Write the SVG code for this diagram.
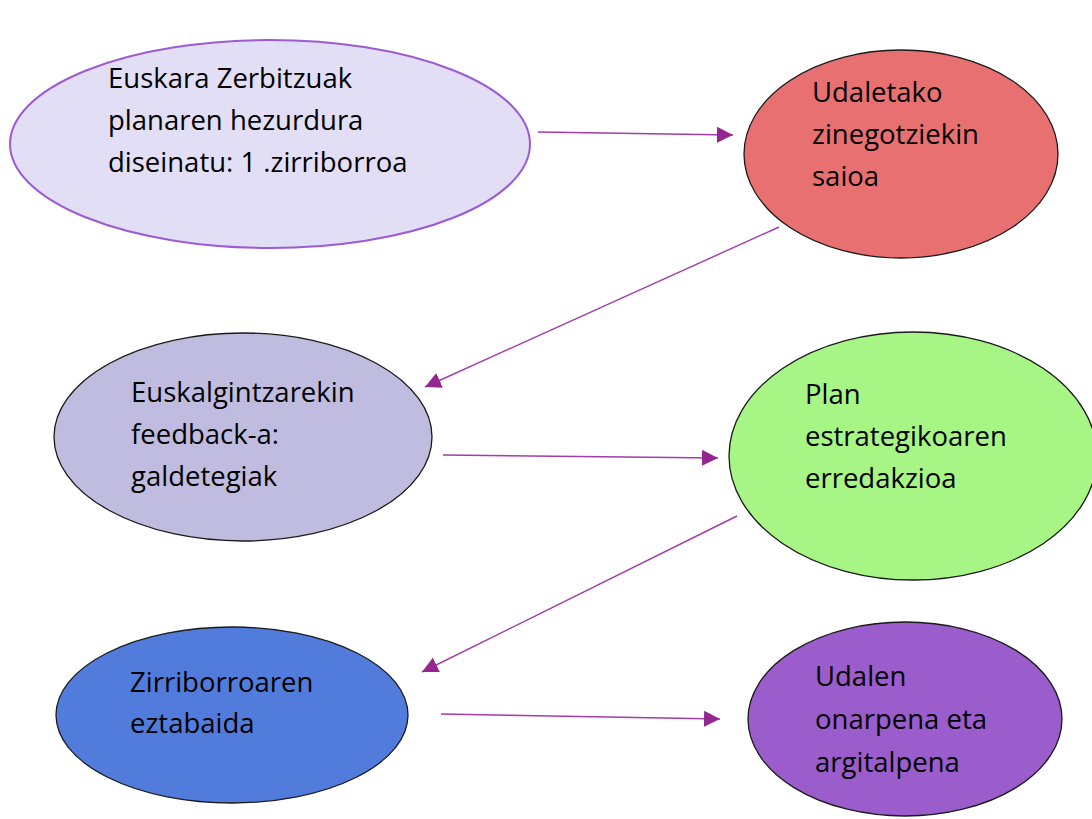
<svg xmlns="http://www.w3.org/2000/svg" width="1092" height="819" viewBox="0 0 1092 819">
<style>
  .t { font-family: "Open Sans", "Noto Sans", "DejaVu Sans", sans-serif; font-size: 27.5px; fill: #000; }
  .n { stroke: #1a1a1a; stroke-width: 1.3; }
  .c { stroke: #a53aab; stroke-width: 1.4; fill: none; marker-end: url(#ah); }
</style>
<defs>
  <marker id="ah" markerUnits="userSpaceOnUse" markerWidth="16" markerHeight="16" refX="16" refY="8" orient="auto">
    <path d="M0,0 L16,8 L0,16 z" fill="#93268f"/>
  </marker>
</defs>
<rect width="1092" height="819" fill="#fff"/>
<g id="node1">
  <ellipse cx="270" cy="144" rx="260" ry="104" fill="#e2def5" stroke="#9b5bd4" stroke-width="2"/>
  <text class="t" x="108" y="88">Euskara Zerbitzuak</text>
  <text class="t" x="108" y="130">planaren hezurdura</text>
  <text class="t" x="108" y="172">diseinatu: 1 .zirriborroa</text>
</g>
<g id="node2">
  <ellipse class="n" cx="901" cy="154" rx="157" ry="104" fill="#e97070"/>
  <text class="t" x="812" y="102">Udaletako</text>
  <text class="t" x="812" y="144">zinegotziekin</text>
  <text class="t" x="812" y="186">saioa</text>
</g>
<g id="node3">
  <ellipse class="n" cx="243" cy="437" rx="189" ry="104" fill="#c0bce0"/>
  <text class="t" x="131" y="402">Euskalgintzarekin</text>
  <text class="t" x="131" y="444">feedback-a:</text>
  <text class="t" x="131" y="486">galdetegiak</text>
</g>
<g id="node4">
  <ellipse class="n" cx="913" cy="456" rx="184" ry="124" fill="#a6f585"/>
  <text class="t" x="805" y="404">Plan</text>
  <text class="t" x="805" y="446">estrategikoaren</text>
  <text class="t" x="805" y="488">erredakzioa</text>
</g>
<g id="node5">
  <ellipse class="n" cx="232" cy="715" rx="176" ry="88" fill="#527cdb"/>
  <text class="t" x="130" y="692">Zirriborroaren</text>
  <text class="t" x="130" y="733">eztabaida</text>
</g>
<g id="node6">
  <ellipse class="n" cx="905" cy="719" rx="157" ry="97" fill="#9b5ccc"/>
  <text class="t" x="815" y="686">Udalen</text>
  <text class="t" x="815" y="729">onarpena eta</text>
  <text class="t" x="815" y="772">argitalpena</text>
</g>
<g id="connectors">
  <line class="c" x1="538" y1="132" x2="733" y2="135"/>
  <line class="c" x1="779" y1="227" x2="425" y2="387"/>
  <line class="c" x1="443" y1="455" x2="718" y2="458"/>
  <line class="c" x1="737" y1="516" x2="422" y2="672"/>
  <line class="c" x1="441" y1="714" x2="720" y2="719"/>
</g>
</svg>
